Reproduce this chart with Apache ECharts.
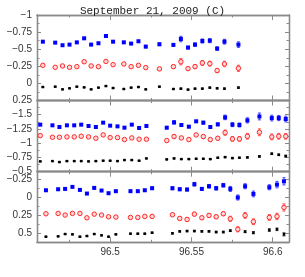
<!DOCTYPE html>
<html><head><meta charset="utf-8">
<script src="https://cdn.jsdelivr.net/npm/echarts@6/dist/echarts.min.js"></script>
<style>html,body{margin:0;padding:0;background:#fff}#c{width:305px;height:277px}</style>
</head><body><div id="c"></div>
<script>
const title = 'September 21, 2009 (C)';
const xTicks = [96.5, 96.55, 96.6];
const xMinor = [96.475, 96.525, 96.575];

// Panel 1
const x1 = [96.4586,96.4662,96.4707,96.4750,96.4795,96.4840,96.4883,96.4928,96.4974,96.5018,96.5084,96.5129,96.5174,96.5219,96.5303,96.5389,96.5435,96.5479,96.5522,96.5567,96.5613,96.5658,96.5703,96.5789];
const blue1 = [-0.610,-0.596,-0.558,-0.567,-0.600,-0.659,-0.567,-0.587,-0.693,-0.610,-0.600,-0.582,-0.616,-0.538,-0.572,-0.563,-0.649,-0.524,-0.567,-0.620,-0.625,-0.509,-0.610,-0.567];
const blue1Err = [0.012,0.012,0.012,0.012,0.012,0.014,0.012,0.012,0.014,0.012,0.014,0.012,0.014,0.018,0.02,0.02,0.04,0.02,0.025,0.03,0.03,0.025,0.035,0.04];
const red1 = [-0.264,-0.235,-0.255,-0.235,-0.245,-0.317,-0.255,-0.245,-0.322,-0.274,-0.284,-0.245,-0.264,-0.231,-0.212,-0.245,-0.317,-0.216,-0.245,-0.299,-0.289,-0.188,-0.284,-0.221];
const red1Err = [0.014,0.014,0.014,0.014,0.014,0.016,0.014,0.014,0.016,0.014,0.016,0.014,0.016,0.02,0.022,0.025,0.045,0.022,0.028,0.035,0.035,0.03,0.04,0.045];
const black1 = [0.053,0.048,0.087,0.072,0.048,0.058,0.087,0.062,0.039,0.068,0.082,0.062,0.053,0.087,0.048,0.082,0.077,0.091,0.077,0.077,0.062,0.072,0.077,0.062];
const black1Err = [0.005,0.005,0.005,0.005,0.005,0.005,0.005,0.005,0.005,0.005,0.005,0.005,0.005,0.005,0.006,0.006,0.008,0.006,0.007,0.008,0.008,0.008,0.009,0.01];

// Panel 2
const x2 = [96.4570,96.4645,96.4688,96.4734,96.4779,96.4822,96.4867,96.4912,96.4957,96.5000,96.5045,96.5088,96.5133,96.5178,96.5223,96.5348,96.5393,96.5438,96.5484,96.5529,96.5573,96.5616,96.5662,96.5707,96.5752,96.5795,96.5844,96.5918,96.5994,96.6037,96.6080];
const blue2 = [-1.326,-1.314,-1.285,-1.314,-1.314,-1.326,-1.303,-1.285,-1.361,-1.308,-1.296,-1.273,-1.326,-1.268,-1.303,-1.273,-1.366,-1.320,-1.291,-1.384,-1.361,-1.285,-1.331,-1.453,-1.326,-1.320,-1.401,-1.470,-1.442,-1.442,-1.425];
const blue2Err = [0.014,0.012,0.012,0.012,0.012,0.012,0.012,0.012,0.014,0.012,0.012,0.012,0.014,0.014,0.014,0.02,0.03,0.02,0.02,0.02,0.025,0.02,0.025,0.04,0.035,0.035,0.045,0.06,0.05,0.045,0.05];
const red2 = [-1.134,-1.105,-1.105,-1.111,-1.111,-1.122,-1.111,-1.087,-1.146,-1.099,-1.099,-1.064,-1.093,-1.070,-1.070,-1.047,-1.117,-1.093,-1.064,-1.146,-1.117,-1.064,-1.087,-1.186,-1.076,-1.076,-1.122,-1.192,-1.111,-1.122,-1.122];
const red2Err = [0.016,0.014,0.014,0.014,0.014,0.014,0.014,0.014,0.016,0.014,0.014,0.014,0.016,0.016,0.016,0.022,0.03,0.022,0.022,0.025,0.028,0.022,0.028,0.045,0.04,0.04,0.05,0.06,0.05,0.05,0.05];
const black2 = [-0.681,-0.686,-0.669,-0.686,-0.686,-0.686,-0.681,-0.686,-0.693,-0.693,-0.686,-0.704,-0.704,-0.693,-0.733,-0.716,-0.733,-0.721,-0.721,-0.727,-0.727,-0.721,-0.745,-0.756,-0.739,-0.745,-0.751,-0.768,-0.815,-0.797,-0.774];
const black2Err = [0.006,0.006,0.006,0.006,0.006,0.006,0.006,0.006,0.006,0.006,0.006,0.006,0.006,0.006,0.006,0.007,0.008,0.007,0.007,0.008,0.008,0.008,0.009,0.01,0.01,0.01,0.012,0.014,0.014,0.014,0.016];

// Panel 3
const x3 = [96.4605,96.4680,96.4723,96.4768,96.4814,96.4857,96.4902,96.4947,96.4990,96.5035,96.5125,96.5170,96.5213,96.5258,96.5383,96.5428,96.5473,96.5518,96.5564,96.5608,96.5652,96.5696,96.5739,96.5785,96.5830,96.5881,96.5979,96.6026,96.6069];
const blue3 = [-0.101,-0.115,-0.120,-0.148,-0.106,-0.055,-0.134,-0.097,-0.060,-0.088,-0.088,-0.088,-0.101,-0.129,-0.129,-0.115,-0.111,-0.185,-0.120,-0.157,-0.129,-0.171,-0.120,0.000,-0.157,-0.050,-0.143,-0.180,-0.226];
const blue3Err = [0.012,0.012,0.012,0.012,0.012,0.012,0.012,0.012,0.012,0.012,0.014,0.014,0.014,0.018,0.02,0.02,0.02,0.025,0.02,0.025,0.025,0.025,0.035,0.035,0.035,0.04,0.035,0.045,0.05];
const red3 = [0.227,0.222,0.245,0.222,0.222,0.283,0.232,0.245,0.269,0.273,0.278,0.278,0.264,0.264,0.241,0.292,0.306,0.232,0.283,0.250,0.269,0.227,0.297,0.444,0.250,0.338,0.278,0.264,0.139];
const red3Err = [0.012,0.012,0.012,0.012,0.012,0.012,0.012,0.012,0.012,0.012,0.014,0.014,0.014,0.018,0.02,0.022,0.022,0.025,0.022,0.025,0.025,0.025,0.035,0.035,0.04,0.04,0.04,0.045,0.05];
const black3 = [0.547,0.542,0.510,0.514,0.547,0.537,0.510,0.528,0.547,0.514,0.505,0.505,0.505,0.491,0.500,0.472,0.468,0.468,0.472,0.472,0.482,0.482,0.463,0.440,0.477,0.491,0.454,0.444,0.514];
const black3Err = [0.006,0.006,0.006,0.006,0.006,0.006,0.006,0.006,0.006,0.006,0.007,0.007,0.007,0.008,0.009,0.01,0.01,0.01,0.01,0.01,0.011,0.011,0.012,0.014,0.014,0.015,0.018,0.018,0.022];

const panels = [
  {x:x1, b:blue1, be:blue1Err, r:red1, re:red1Err, k:black1, ke:black1Err, min:-1, max:0.25,
   major:[-1,-0.75,-0.5,-0.25,0,0.25], labels:[-1,-0.75,-0.5,-0.25,0,0.25], minor:[-0.875,-0.625,-0.375,-0.125,0.125]},
  {x:x2, b:blue2, be:blue2Err, r:red2, re:red2Err, k:black2, ke:black2Err, min:-1.75, max:-0.5,
   major:[-1.75,-1.5,-1.25,-1,-0.75,-0.5], labels:[-1.5,-1.25,-1,-0.75,-0.5], minor:[-1.625,-1.375,-1.125,-0.875,-0.625]},
  {x:x3, b:blue3, be:blue3Err, r:red3, re:red3Err, k:black3, ke:black3Err, min:-0.36, max:0.625,
   major:[-0.25,0,0.25,0.5], labels:[-0.25,0,0.25,0.5], minor:[-0.125,0.125,0.375,0.625]}
];
const gridBox = [{top:15,height:85.5},{top:100.5,height:71.2},{top:171.7,height:70.6}];

const FRAME = '#8a8a8a';
const fmt = v => { const s = String(+v.toFixed(3)); return v < 0 ? '\u2212' + s.slice(1) : s; };
const grids = [], xAxes = [], yAxes = [], series = [];

panels.forEach((p, i) => {
  grids.push({left:37, width:252, top:gridBox[i].top, height:gridBox[i].height});
  const xBase = {type:'value', gridIndex:i, min:96.455, max:96.61, splitLine:{show:false},
    axisLine:{show:true, onZero:false, lineStyle:{color:FRAME, width:1.3}}};
  xAxes.push(Object.assign({}, xBase, {position:'bottom',
    axisTick:{show:true, inside:true, length:5, customValues:xTicks, lineStyle:{color:FRAME}},
    axisLabel:{show:i===2, customValues:xTicks, fontFamily:'Liberation Sans', fontSize:10, color:'#333', margin:5}}));
  const mainX = xAxes.length - 1;
  xAxes.push(Object.assign({}, xBase, {position:'bottom',
    axisTick:{show:true, inside:true, length:2.5, customValues:xMinor, lineStyle:{color:FRAME}}, axisLabel:{show:false}}));
  xAxes.push(Object.assign({}, xBase, {position:'top',
    axisTick:{show:true, inside:true, length:5, customValues:xTicks, lineStyle:{color:FRAME}}, axisLabel:{show:false}}));
  xAxes.push(Object.assign({}, xBase, {position:'top',
    axisTick:{show:true, inside:true, length:2.5, customValues:xMinor, lineStyle:{color:FRAME}}, axisLabel:{show:false}}));

  const yBase = {type:'value', gridIndex:i, min:p.min, max:p.max, inverse:true, splitLine:{show:false},
    axisLine:{show:true, onZero:false, lineStyle:{color:FRAME, width:1.3}}};
  yAxes.push(Object.assign({}, yBase, {position:'left',
    axisTick:{show:true, inside:true, length:4, customValues:p.major, lineStyle:{color:FRAME}},
    axisLabel:{show:true, customValues:p.labels, formatter:fmt, fontFamily:'Liberation Sans', fontSize:10, color:'#333', margin:5}}));
  const mainY = yAxes.length - 1;
  yAxes.push(Object.assign({}, yBase, {position:'left',
    axisTick:{show:true, inside:true, length:2.5, customValues:p.minor, lineStyle:{color:FRAME}}, axisLabel:{show:false}}));
  yAxes.push(Object.assign({}, yBase, {position:'right',
    axisTick:{show:true, inside:true, length:4, customValues:p.major, lineStyle:{color:FRAME}}, axisLabel:{show:false}}));
  yAxes.push(Object.assign({}, yBase, {position:'right',
    axisTick:{show:true, inside:true, length:2.5, customValues:p.minor, lineStyle:{color:FRAME}}, axisLabel:{show:false}}));

  const sets = [
    {v:p.k, e:p.ke, sym:'rect', size:2.5, color:'#000', border:'#000', bar:'#444'},
    {v:p.r, e:p.re, sym:'circle', size:4.5, color:'#ffd6d6', border:'#ff2a2a', bar:'#ff5050'},
    {v:p.b, e:p.be, sym:'rect', size:4, color:'#0000ff', border:'#0000ff', bar:'#4040ff'}
  ];
  sets.forEach(s => {
    const errData = p.x.map((x, j) => [x, s.v[j], s.e[j]]);
    series.push({type:'custom', xAxisIndex:mainX, yAxisIndex:mainY, silent:true, z:2,
      renderItem:(params, api) => {
        const x = api.value(0), y = api.value(1), e = api.value(2);
        const a = api.coord([x, y - e]), b = api.coord([x, y + e]);
        const st = {stroke:s.bar, lineWidth:1};
        return {type:'group', children:[
          {type:'line', shape:{x1:a[0], y1:a[1], x2:b[0], y2:b[1]}, style:st},
          {type:'line', shape:{x1:a[0]-1.5, y1:a[1], x2:a[0]+1.5, y2:a[1]}, style:st},
          {type:'line', shape:{x1:b[0]-1.5, y1:b[1], x2:b[0]+1.5, y2:b[1]}, style:st}
        ]};
      }, data:errData});
    series.push({type:'scatter', xAxisIndex:mainX, yAxisIndex:mainY, symbol:s.sym, symbolSize:s.size, z:3,
      silent:true, itemStyle:{color:s.color, borderColor:s.border, borderWidth:s.sym==='circle'?1:0, opacity:1},
      data:p.x.map((x, j) => [x, s.v[j]])});
  });
});

const chart = echarts.init(document.getElementById('c'), null, {renderer:'canvas'});
chart.setOption({
  animation:false,
  backgroundColor:'#fff',
  title:{text:title, left:'center', top:1, textStyle:{fontFamily:'Liberation Mono', fontSize:11, fontWeight:'normal', color:'#222'}},
  grid:grids, xAxis:xAxes, yAxis:yAxes, series:series
});
</script></body></html>
